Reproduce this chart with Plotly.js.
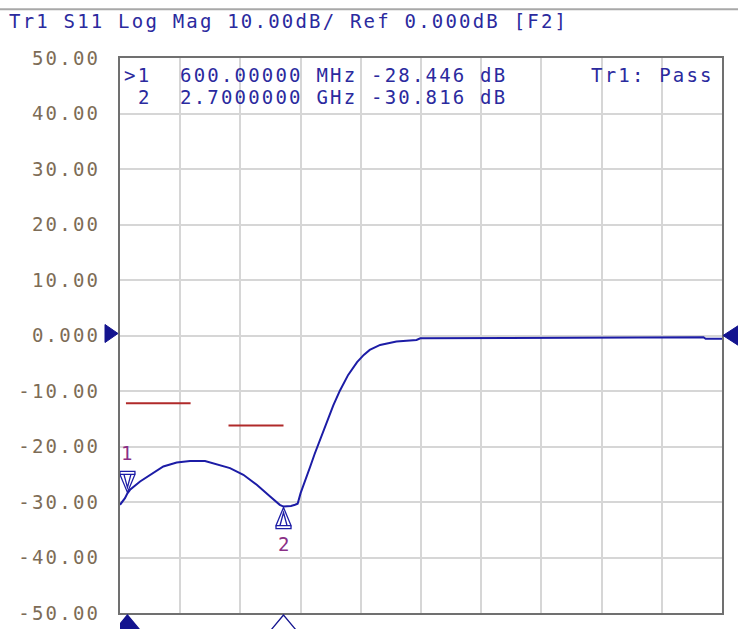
<!DOCTYPE html>
<html>
<head>
<meta charset="utf-8">
<script src="https://cdn.plot.ly/plotly-3.0.1.min.js"></script>
<style>
  html, body { margin: 0; padding: 0; background: #fff; }
  #chart { width: 738px; height: 629px; }
  svg text { letter-spacing: 2.2px; }
</style>
</head>
<body>
<div id="chart"></div>
<script>
// ---- data (frequency in GHz, S11 in dB) ----
const freqGHz = [0.5, 0.567, 0.6, 0.635, 0.77, 0.904, 1.083, 1.263, 1.442, 1.644, 1.80, 1.98, 2.16, 2.34, 2.52, 2.65, 2.70, 2.74, 2.80, 2.855, 2.89, 2.93, 2.99, 3.06, 3.12, 3.19, 3.28, 3.37, 3.46, 3.57, 3.69, 3.78, 3.86, 4.0, 4.22, 4.49, 4.54, 5.5, 6.5, 7.5, 8.35, 8.38, 8.6];
const s11dB   = [-30.5, -29.3, -28.446, -27.8, -26.3, -25.1, -23.6, -22.9, -22.6, -22.6, -23.2, -23.9, -25.1, -26.9, -29.0, -30.5, -30.816, -30.8, -30.7, -30.5, -30.3, -28.4, -26.3, -23.6, -21.3, -18.8, -15.6, -12.6, -9.9, -7.1, -4.8, -3.5, -2.6, -1.7, -1.1, -0.8, -0.5, -0.45, -0.4, -0.35, -0.3, -0.6, -0.6];

// limit lines
const limit1Freq = [0.58, 1.45];
const limit1dB   = [-12.2, -12.2];
const limit2Freq = [1.96, 2.70];
const limit2dB   = [-16.2, -16.2];

// markers
const markerIds   = ['1', '2'];
const markerFreq  = [0.6, 2.7];
const markerDB    = [-28.446, -30.816];
const markerFreqText = ['600.00000 MHz', '2.7000000 GHz'];
const markerValText  = ['-28.446 dB', '-30.816 dB'];
const markerPrefix   = ['>1', '2'];

// axes
const xStart = 0.5, xStop = 8.6;
const refLevel = 0;
const yTickVals = [50, 40, 30, 20, 10, 0, -10, -20, -30, -40, -50];
const yTickText = ['50.00', '40.00', '30.00', '20.00', '10.00', '0.000', '-10.00', '-20.00', '-30.00', '-40.00', '-50.00'];
const titleText = 'Tr1 S11 Log Mag 10.00dB/ Ref 0.000dB [F2]';
const statusText = 'Tr1: Pass';

const TXT = '#2b2a9e';
const NAVY = '#14148f';
const FONT = 'DejaVu Sans Mono, monospace';
const FS = 19;

const traces = [
  { x: freqGHz, y: s11dB, mode: 'lines', line: { color: '#1c1ca6', width: 2 }, hoverinfo: 'skip' },
  { x: limit1Freq, y: limit1dB, mode: 'lines', line: { color: '#b02a2a', width: 2 }, hoverinfo: 'skip' },
  { x: limit2Freq, y: limit2dB, mode: 'lines', line: { color: '#b02a2a', width: 2 }, hoverinfo: 'skip' }
];

const shapes = [];
// top window line
shapes.push({ type: 'line', xref: 'paper', yref: 'paper', x0: -0.2, x1: 1.05, y0: 1.088, y1: 1.088,
  line: { color: '#a8a8a8', width: 2 } });

// markers on trace
markerFreq.forEach((f, i) => {
  const dir = i === 0 ? 1 : -1;  // 1: triangle above point pointing down; -1: below, pointing up
  const d = (v) => (dir * v);
  shapes.push({ type: 'path', xref: 'x', yref: 'y', xsizemode: 'pixel', ysizemode: 'pixel',
    xanchor: f, yanchor: markerDB[i],
    path: `M -7.5 ${d(19)} L 0 ${d(1)} L 7.5 ${d(19)} Z M -3.5 ${d(19)} L 0 ${d(6)} L 3.5 ${d(19)} M -7.5 ${d(22)} L 7.5 ${d(22)} L 7.5 ${d(19)} L -7.5 ${d(19)} Z`,
    line: { color: '#1c1ca6', width: 1.3 }, fillcolor: 'rgba(0,0,0,0)' });
  // bottom stimulus triangles
  shapes.push({ type: 'path', xref: 'x', yref: 'paper', xsizemode: 'pixel', ysizemode: 'pixel',
    xanchor: f, yanchor: 0,
    path: 'M 0 -2 L -12.5 -17 L 12.5 -17 Z',
    line: { color: NAVY, width: 1.3 }, fillcolor: i === 0 ? NAVY : '#ffffff' });
});

// reference level triangles
shapes.push({ type: 'path', xref: 'paper', yref: 'y', xsizemode: 'pixel', ysizemode: 'pixel',
  xanchor: 0, yanchor: refLevel, path: 'M -2 2 L -15 11 L -15 -7 Z',
  line: { color: NAVY, width: 1 }, fillcolor: NAVY });
shapes.push({ type: 'path', xref: 'paper', yref: 'y', xsizemode: 'pixel', ysizemode: 'pixel',
  xanchor: 1, yanchor: refLevel, path: 'M 1 0 L 18 11 L 18 -11 Z',
  line: { color: NAVY, width: 1 }, fillcolor: NAVY });

const annotations = [];
const lineY = [0.969, 0.930];
markerIds.forEach((id, i) => {
  annotations.push({ xref: 'paper', yref: 'paper', x: i === 0 ? 0.003 : 0.026, y: lineY[i], xanchor: 'left', yanchor: 'middle',
    text: markerPrefix[i], showarrow: false, font: { family: FONT, size: FS, color: TXT } });
  annotations.push({ xref: 'paper', yref: 'paper', x: 0.096, y: lineY[i], xanchor: 'left', yanchor: 'middle',
    text: markerFreqText[i], showarrow: false, font: { family: FONT, size: FS, color: TXT } });
  annotations.push({ xref: 'paper', yref: 'paper', x: 0.414, y: lineY[i], xanchor: 'left', yanchor: 'middle',
    text: markerValText[i], showarrow: false, font: { family: FONT, size: FS, color: TXT } });
  // marker number labels
  annotations.push({ xref: 'x', yref: 'y', x: markerFreq[i], y: markerDB[i], yshift: i === 0 ? 40 : -37,
    xanchor: 'center', yanchor: 'middle', xshift: 1,
    text: id, showarrow: false, font: { family: FONT, size: FS, color: '#8a2f86' } });
});
annotations.push({ xref: 'paper', yref: 'paper', x: 0.99, y: 0.969, xanchor: 'right', yanchor: 'middle',
  text: statusText, showarrow: false, font: { family: FONT, size: FS, color: TXT } });

const layout = {
  width: 738, height: 629,
  margin: { l: 120, r: 16, t: 58, b: 16 },
  paper_bgcolor: '#ffffff', plot_bgcolor: '#ffffff',
  showlegend: false,
  title: { text: titleText, xref: 'container', yref: 'container', x: 9 / 738, xanchor: 'left',
    y: 1 - 21 / 629, yanchor: 'middle', font: { family: FONT, size: FS, color: TXT } },
  xaxis: { range: [xStart, xStop], tick0: xStart, dtick: (xStop - xStart) / 10, showticklabels: false,
    showgrid: true, gridcolor: '#d6d6d6', gridwidth: 2, zeroline: false,
    showline: true, mirror: true, linecolor: '#707070', linewidth: 2, ticks: '', fixedrange: true },
  yaxis: { range: [-50, 50], tickvals: yTickVals, ticktext: yTickText,
    showgrid: true, gridcolor: '#d6d6d6', gridwidth: 2, zeroline: false,
    showline: true, mirror: true, linecolor: '#707070', linewidth: 2, ticks: '',
    ticklabelstandoff: 14, tickfont: { family: FONT, size: FS, color: '#7d6c56' }, fixedrange: true },
  shapes: shapes,
  annotations: annotations
};

Plotly.newPlot('chart', traces, layout, { displayModeBar: false, staticPlot: true });
</script>
</body>
</html>
